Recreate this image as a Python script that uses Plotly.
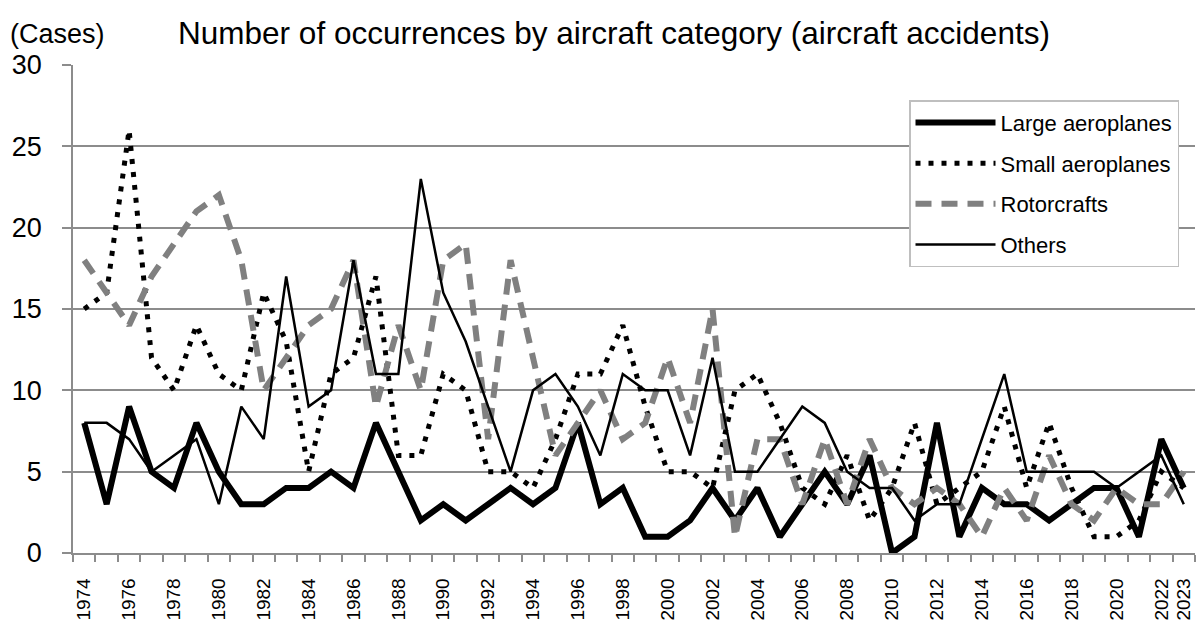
import plotly.graph_objects as go

years = [1974, 1975, 1976, 1977, 1978, 1979, 1980, 1981, 1982, 1983,
         1984, 1985, 1986, 1987, 1988, 1989, 1990, 1991, 1992, 1993,
         1994, 1995, 1996, 1997, 1998, 1999, 2000, 2001, 2002, 2003,
         2004, 2005, 2006, 2007, 2008, 2009, 2010, 2011, 2012, 2013,
         2014, 2015, 2016, 2017, 2018, 2019, 2020, 2021, 2022, 2023]

large_aeroplanes = [8, 3, 9, 5, 4, 8, 5, 3, 3, 4,
                    4, 5, 4, 8, 5, 2, 3, 2, 3, 4,
                    3, 4, 8, 3, 4, 1, 1, 2, 4, 2,
                    4, 1, 3, 5, 3, 6, 0, 1, 8, 1,
                    4, 3, 3, 2, 3, 4, 4, 1, 7, 4]

small_aeroplanes = [15, 16, 26, 12, 10, 14, 11, 10, 16, 13,
                    5, 11, 12, 17, 6, 6, 11, 10, 5, 5,
                    4, 7, 11, 11, 14, 9, 5, 5, 4, 10,
                    11, 8, 4, 3, 6, 2, 4, 8, 3, 4,
                    5, 9, 4, 8, 4, 1, 1, 2, 5, 4]

rotorcrafts = [18, 16, 14, 17, 19, 21, 22, 18, 10, 12,
               14, 15, 18, 9, 14, 10, 18, 19, 7, 18,
               12, 6, 8, 10, 7, 8, 12, 8, 15, 1,
               7, 7, 3, 7, 3, 7, 4, 3, 4, 3,
               1, 4, 2, 6, 3, 2, 4, 3, 3, 5]

others = [8, 8, 7, 5, 6, 7, 3, 9, 7, 17,
          9, 10, 18, 11, 11, 23, 16, 13, 9, 5,
          10, 11, 9, 6, 11, 10, 10, 6, 12, 5,
          5, 7, 9, 8, 5, 4, 4, 2, 3, 3,
          7, 11, 5, 5, 5, 5, 4, 5, 6, 3]

tick_years = [1974, 1976, 1978, 1980, 1982, 1984, 1986, 1988, 1990, 1992,
              1994, 1996, 1998, 2000, 2002, 2004, 2006, 2008, 2010, 2012,
              2014, 2016, 2018, 2020, 2022, 2023]
tick_text = [str(y) for y in tick_years]
boundaries = [y - 0.5 for y in years] + [years[-1] + 0.5]

FONT = "Liberation Sans, Arial, sans-serif"

fig = go.Figure()
fig.add_trace(go.Scatter(x=years, y=large_aeroplanes, mode="lines", name="Large aeroplanes",
                         legendgroup="a", line=dict(color="black", width=6)))
fig.add_trace(go.Scatter(x=years, y=small_aeroplanes, mode="lines", name="Small aeroplanes",
                         legendgroup="b", line=dict(color="black", width=5, dash="5px,8px")))
fig.add_trace(go.Scatter(x=years, y=rotorcrafts, mode="lines", name="Rotorcrafts",
                         legendgroup="c", line=dict(color="#808080", width=6, dash="16px,10px")))
fig.add_trace(go.Scatter(x=years, y=others, mode="lines", name="Others",
                         legendgroup="d", line=dict(color="black", width=2.5)))

fig.update_layout(
    width=1198, height=621,
    margin=dict(l=73, r=3, t=65, b=68, autoexpand=False),
    paper_bgcolor="white", plot_bgcolor="white",
    font=dict(family=FONT, color="black"),
    title=dict(text="Number of occurrences by aircraft category (aircraft accidents)",
               x=614 / 1198, xref="container", xanchor="center",
               y=1 - 33 / 621, yref="container", yanchor="middle",
               font=dict(size=31.5, family=FONT, color="black")),
    showlegend=True,
    legend=dict(x=(909 - 73) / 1122, y=(552.7 - 100) / 488, xanchor="left", yanchor="top",
                bgcolor="white", bordercolor="#bfbfbf", borderwidth=1.5,
                font=dict(size=22, family=FONT, color="black"),
                itemwidth=80, tracegroupgap=9, traceorder="grouped"),
    xaxis=dict(range=[1973.5, 2023.5], tickmode="array", tickvals=tick_years, ticktext=tick_text,
               tickangle=-90, tickfont=dict(size=19, family=FONT, color="black"),
               showgrid=False, zeroline=False, showline=True, linecolor="#8c8c8c", linewidth=1.5,
               ticks="", ticklabelstandoff=16, automargin=False,
               minor=dict(tickmode="array", tickvals=boundaries, ticks="outside", ticklen=7,
                          tickcolor="#8c8c8c", tickwidth=1.5, showgrid=False)),
    yaxis=dict(range=[0, 30], tickmode="array", tickvals=[0, 5, 10, 15, 20, 25, 30],
               tickfont=dict(size=27, family=FONT, color="black"),
               showgrid=True, gridcolor="#8c8c8c", gridwidth=1.5, zeroline=False,
               showline=True, linecolor="#8c8c8c", linewidth=1.5,
               ticks="outside", ticklen=9, tickcolor="#8c8c8c", tickwidth=1.5,
               ticklabelstandoff=15, automargin=False),
    annotations=[dict(text="(Cases)", xref="paper", yref="paper",
                      x=(8 - 73) / 1122, xanchor="left",
                      y=(552.7 - 34) / 488, yanchor="middle", showarrow=False,
                      font=dict(size=27, family=FONT, color="black"))],
)

fig.write_html("out.html", config={"displayModeBar": False},
               post_script="document.body.style.margin='0px';document.body.style.overflow='hidden';")
